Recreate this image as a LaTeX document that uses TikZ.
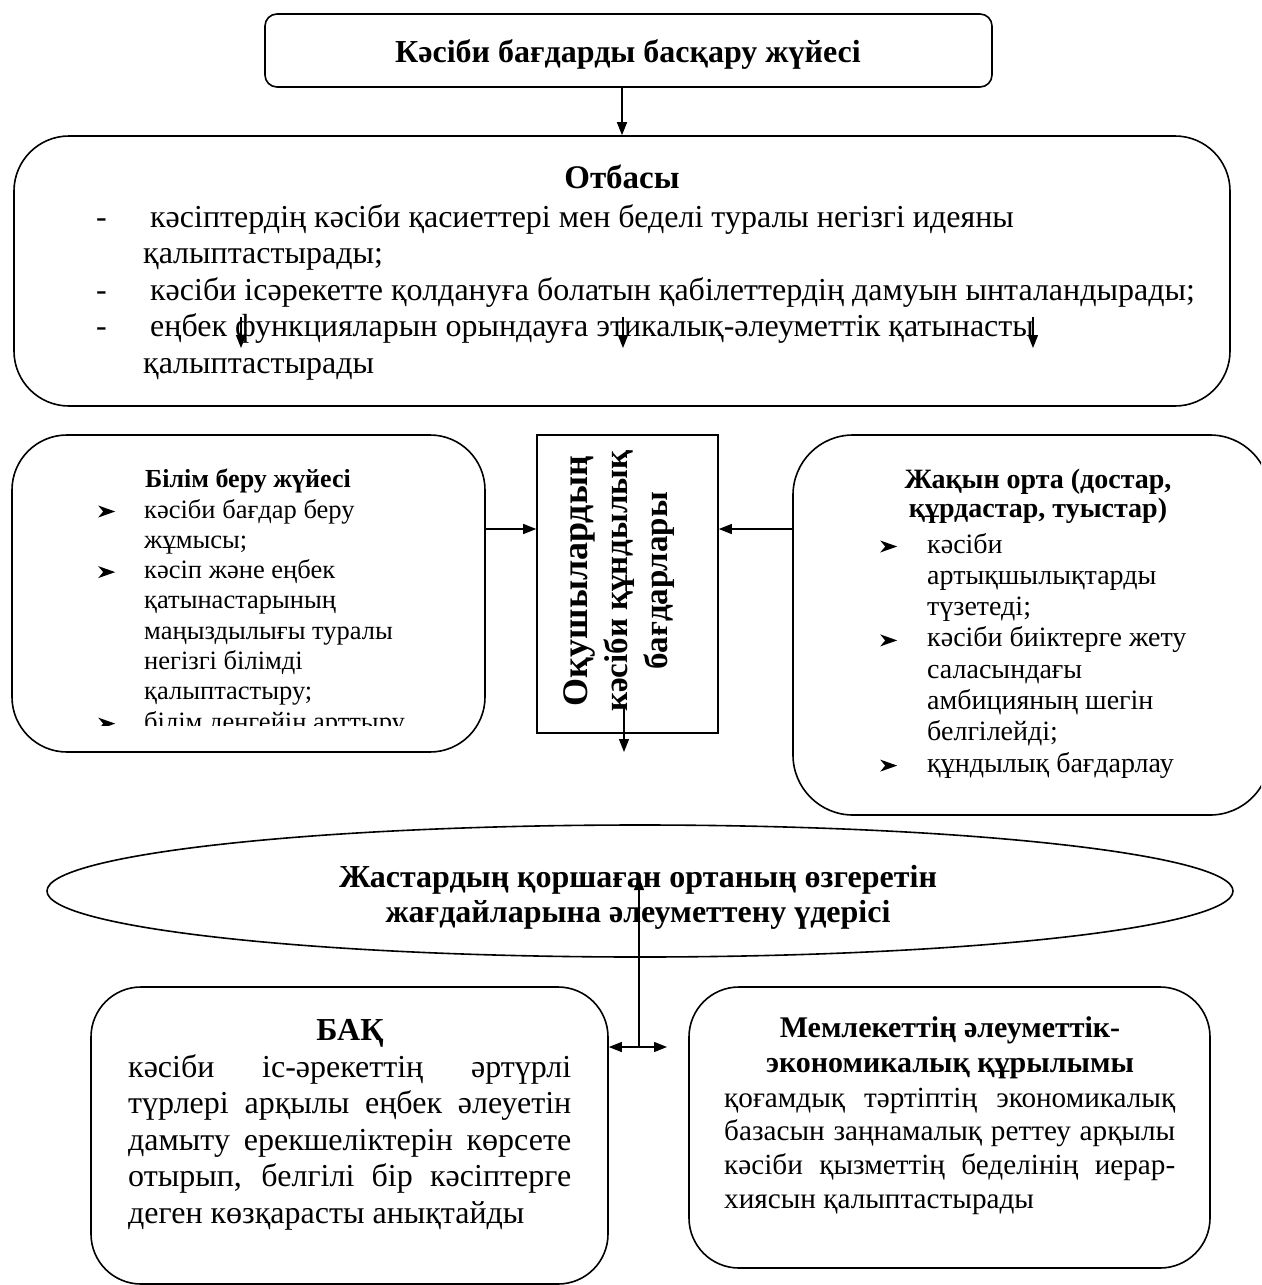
\documentclass[tikz,border=0pt]{standalone}
\usepackage{fontspec}
\setmainfont{Liberation Serif}
\usetikzlibrary{arrows.meta,shapes.geometric}
\newcommand\fsz[2]{\fontsize{#1}{#2}\selectfont}
\newcommand\bul{\tikz[x=1pt,y=1pt,baseline=0pt]{\fill[black] (0,0.5)--(17,6.5)--(0,12.5)--(5,6.5)--cycle;}}
\newcommand\stk[2]{\vtop{\baselineskip=#1pt\lineskiplimit=-1000pt\lineskip=0pt\relax #2}}
\newcommand\cln[1]{\hbox to 0pt{\hss #1\hss}}
\tikzset{
  rbox/.style={draw, line width=1.6pt, inner sep=0pt},
  txt/.style={inner sep=0pt},
  arr/.style={-{Triangle[length=13pt,width=10pt]}, line width=1.3pt},
  darr/.style={{Triangle[length=13pt,width=10pt]}-{Triangle[length=13pt,width=10pt]}, line width=1.3pt}
}
\begin{document}
\begin{tikzpicture}[x=1pt,y=-1pt]
\path[use as bounding box, clip] (0,0) rectangle (1261,1285);
\fill[white] (0,0) rectangle (1261,1285);

% boxes
\node[rbox, rounded corners=12pt, minimum width=727pt, minimum height=73pt] (top) at (628.5,50.5) {};
\node[rbox, rounded corners=55pt, minimum width=1216pt, minimum height=270pt] (otb) at (622,271) {};
\node[rbox, rounded corners=55pt, minimum width=473pt, minimum height=317pt] (edu) at (248.5,593.5) {};
\node[rbox, minimum width=181pt, minimum height=298pt] (rect) at (627.5,584) {};
\node[rbox, rounded corners=60pt, minimum width=477pt, minimum height=380pt] (near) at (1031.5,625) {};
\node[rbox, ellipse, minimum width=1186pt, minimum height=132pt] (ell) at (640,891) {};
\node[rbox, rounded corners=50pt, minimum width=517pt, minimum height=297pt] (bak) at (349.5,1135.5) {};
\node[rbox, rounded corners=50pt, minimum width=521pt, minimum height=281pt] (mem) at (949.5,1127.5) {};

% top title
\node[txt, anchor=base, font=\bfseries\fsz{32}{36}] (ttop) at (628,62) {Кәсіби бағдарды басқару жүйесі};

% Otbasy
\node[txt, anchor=base, font=\bfseries\fsz{33}{36}] (totb) at (622,188) {Отбасы};
\node[txt, anchor=base west, font=\fsz{32}{36.5}] (lotb) at (96,227) {\stk{36.5}{%
 \hbox{\makebox[54pt][l]{-}кәсіптердің кәсіби қасиеттері мен беделі туралы негізгі идеяны}%
 \hbox{\hskip47pt қалыптастырады;}%
 \hbox{\makebox[54pt][l]{-}кәсіби ісәрекетте қолдануға болатын қабілеттердің дамуын ынталандырады;}%
 \hbox{\makebox[54pt][l]{-}еңбек функцияларын орындауға этикалық-әлеуметтік қатынасты}%
 \hbox{\hskip47pt қалыптастырады}}};

% Education box
\node[txt, anchor=base, font=\bfseries\fsz{26}{30}] (tedu) at (248,487) {Білім беру жүйесі};
\begin{scope}
\clip (0,435) rectangle (485,725);
\node[txt, anchor=base west, font=\fsz{26.5}{30}] (ledu) at (98,518) {\stk{30.3}{%
 \hbox{\makebox[46pt][l]{\bul}кәсіби бағдар беру}%
 \hbox{\hskip46pt жұмысы;}%
 \hbox{\makebox[46pt][l]{\bul}кәсіп және еңбек}%
 \hbox{\hskip46pt қатынастарының}%
 \hbox{\hskip46pt маңыздылығы туралы}%
 \hbox{\hskip46pt негізгі білімді}%
 \hbox{\hskip46pt қалыптастыру;}%
 \hbox{\makebox[46pt][l]{\bul}білім деңгейін арттыру}}};
\end{scope}

% central rotated text
\node[txt, anchor=base, rotate=90, font=\bfseries] (trect) at (587,581) {\stk{40}{%
 \cln{\fsz{36}{40}Оқушылардың}%
 \cln{\fsz{33}{40}кәсіби құндылық}%
 \cln{\fsz{33}{40}бағдарлары}}};

% near environment box
\node[txt, anchor=base, font=\bfseries\fsz{28}{30}] (tnear) at (1038,488) {\stk{29.5}{%
 \cln{Жақын орта (достар,}%
 \cln{құрдастар, туыстар)}}};
\node[txt, anchor=base west, font=\fsz{28}{30}] (lnear) at (880,553) {\stk{31.3}{%
 \hbox{\makebox[47pt][l]{\bul}кәсіби}%
 \hbox{\hskip47pt артықшылықтарды}%
 \hbox{\hskip47pt түзетеді;}%
 \hbox{\makebox[47pt][l]{\bul}кәсіби биіктерге жету}%
 \hbox{\hskip47pt саласындағы}%
 \hbox{\hskip47pt амбицияның шегін}%
 \hbox{\hskip47pt белгілейді;}%
 \hbox{\makebox[47pt][l]{\bul}құндылық бағдарлау}}};

% ellipse text
\node[txt, anchor=base, font=\bfseries\fsz{32}{35}] (tell) at (638,887) {\stk{35}{%
 \cln{Жастардың қоршаған ортаның өзгеретін}%
 \cln{жағдайларына әлеуметтену үдерісі}}};

% BAK
\node[txt, anchor=base, font=\bfseries\fsz{32}{36}] (tbak) at (350,1040) {БАҚ};
\node[txt, anchor=base west, font=\fsz{32}{36.5}] (lbak) at (128,1077) {\stk{36.6}{%
 \hbox to 443pt{кәсіби іс-әрекеттің әртүрлі}%
 \hbox to 443pt{түрлері арқылы еңбек әлеуетін}%
 \hbox to 443pt{дамыту ерекшеліктерін көрсете}%
 \hbox to 443pt{отырып, белгілі бір кәсіптерге}%
 \hbox{деген көзқарасты анықтайды}}};

% State structure
\node[txt, anchor=base, font=\bfseries\fsz{30}{35}] (tmem) at (950,1037) {\stk{35}{%
 \cln{Мемлекеттің әлеуметтік-}%
 \cln{экономикалық құрылымы}}};
\node[txt, anchor=base west, font=\fsz{29.2}{34}] (lmem) at (724,1107) {\stk{33.7}{%
 \hbox to 451pt{қоғамдық тәртіптің экономикалық}%
 \hbox to 451pt{базасын заңнамалық реттеу арқылы}%
 \hbox to 451pt{кәсіби қызметтің беделінің иерар-}%
 \hbox{хиясын қалыптастырады}}};

% connectors
\draw[arr] (top.south -| otb.north) -- (otb.north);
\coordinate (s1a) at (241,317); \coordinate (s1b) at (241,348);
\coordinate (s2a) at (623,317); \coordinate (s2b) at (623,348);
\coordinate (s3a) at (1033,317); \coordinate (s3b) at (1033,348);
\draw[arr] (s1a) -- (s1b);
\draw[arr] (s2a) -- (s2b);
\draw[arr] (s3a) -- (s3b);
\coordinate (yL) at (0,529);
\draw[arr] (edu.east |- yL) -- (rect.west |- yL);
\draw[arr] (near.west |- yL) -- (rect.east |- yL);
\coordinate (rt) at (624,708); \coordinate (rb) at (624,752);
\draw[arr] (rt) -- (rb);
\coordinate (dm) at (667,1047);
\draw[darr] (bak.east |- dm) -- (dm);
\coordinate (vb) at (639,1047); \coordinate (vt) at (639,877);
\draw[arr] (vb) -- (vt);
\end{tikzpicture}
\end{document}
